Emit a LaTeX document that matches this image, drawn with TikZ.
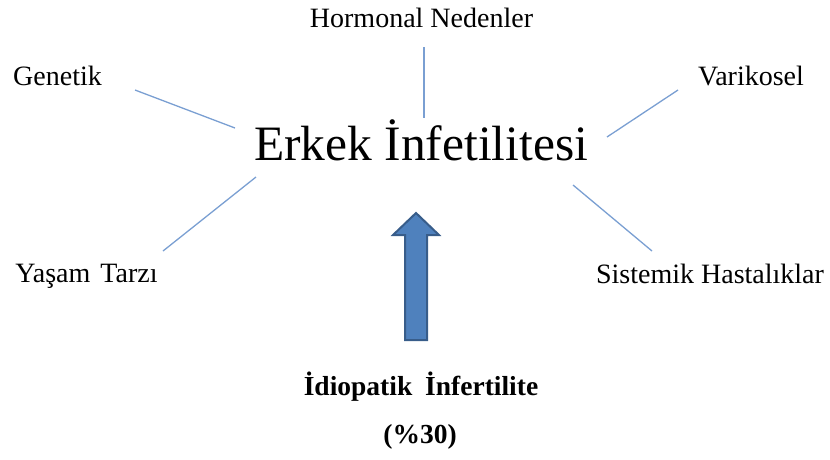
\documentclass[tikz,border=0pt]{standalone}
\usepackage{fontspec}
\setmainfont{Liberation Serif}
\definecolor{linkblue}{HTML}{7A9FD2}
\definecolor{arrowfill}{HTML}{4F81BD}
\definecolor{arrowline}{HTML}{385D8A}
\tikzset{
  label/.style={inner sep=0pt, anchor=base, font=\fontsize{28}{32}\selectfont, text=black},
  title/.style={inner sep=0pt, anchor=base, font=\fontsize{49.5}{56}\selectfont, text=black},
  boldlabel/.style={inner sep=0pt, anchor=base, font=\fontsize{27.5}{32}\selectfont\bfseries, text=black},
  link/.style={draw=linkblue, line width=1.3pt},
  bigarrow/.style={fill=arrowfill, draw=arrowline, line width=2pt, line join=miter}
}
\begin{document}
\begin{tikzpicture}[x=1pt,y=-1pt]
\useasboundingbox (0,0) rectangle (830,459);
% texts
\node[title] (center) at (421,160) {Erkek İnfetilitesi};
\node[label] (hormonal) at (421.5,27) {Hormonal Nedenler};
\node[label] (genetik) at (57.5,85) {Genetik};
\node[label] (varikosel) at (751,85) {Varikosel};
\node[label] (yasam) at (86.5,282) {Yaşam\hspace{3pt} Tarzı};
\node[label] (sistemik) at (710,283) {Sistemik Hastalıklar};
\node[boldlabel] (idio) at (421,395) {İdiopatik\hspace{6pt} İnfertilite};
\node[boldlabel] (yuzde) at (420,443) {(\%30)};
% connector end points
\coordinate (h1) at (424,47);
\coordinate (h2) at (424,118);
\coordinate (g1) at (135,90);
\coordinate (g2) at (235,128);
\coordinate (v1) at (678,90);
\coordinate (v2) at (607,137);
\coordinate (y1) at (256,177);
\coordinate (y2) at (163,251);
\coordinate (s1) at (573,185);
\coordinate (s2) at (652,251);
\draw[link] (h1) -- (h2);
\draw[link] (g1) -- (g2);
\draw[link] (v1) -- (v2);
\draw[link] (y1) -- (y2);
\draw[link] (s1) -- (s2);
% big arrow
\draw[bigarrow] (405,340) -- (405,235) -- (393,235) -- (416,213) -- (439,235) -- (427,235) -- (427,340) -- cycle;
\end{tikzpicture}
\end{document}
